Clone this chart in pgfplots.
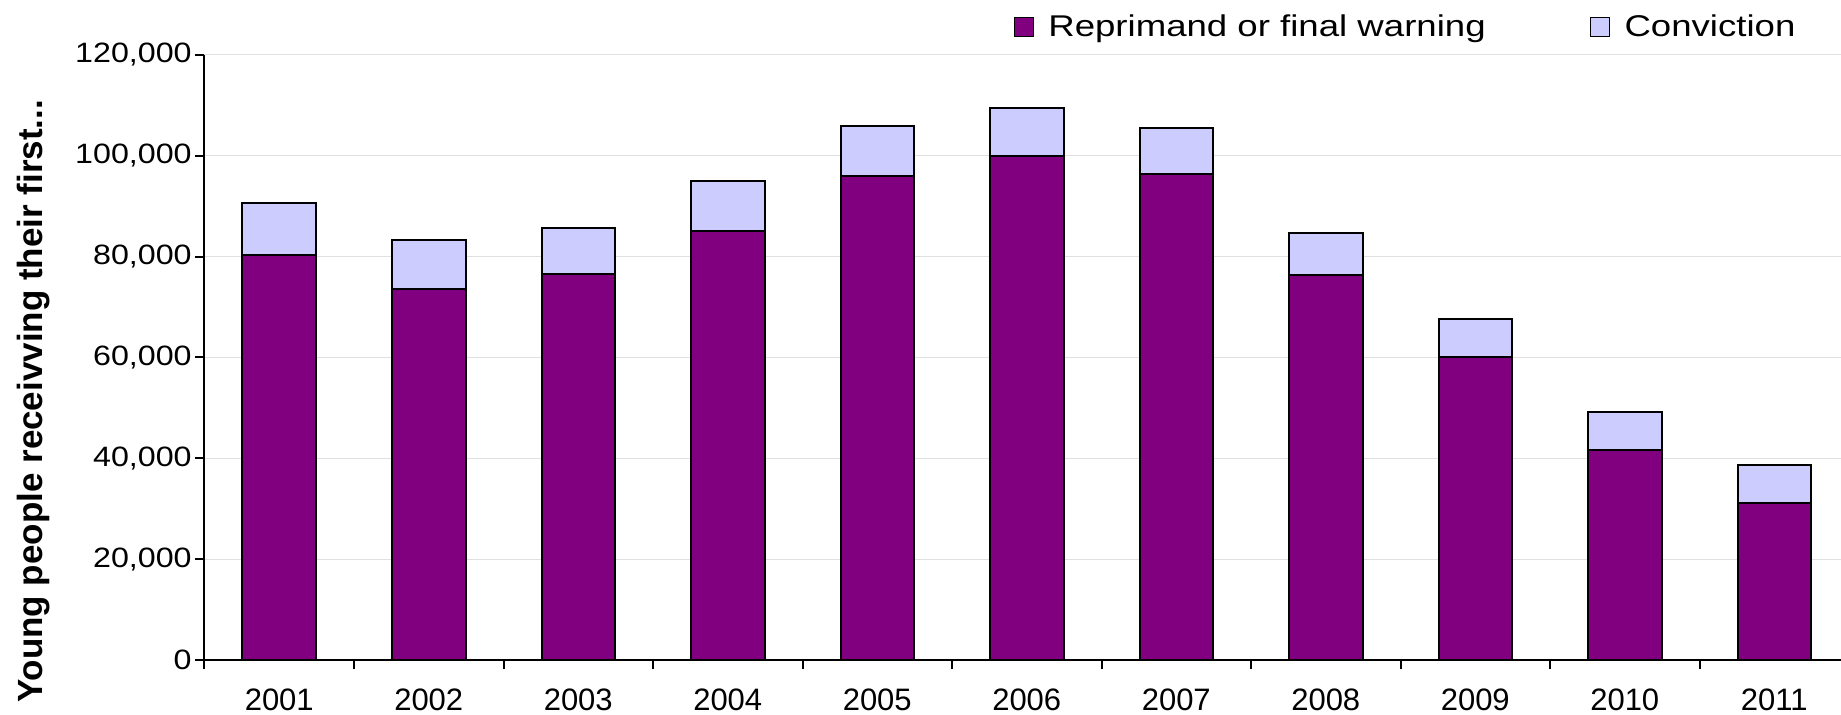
\documentclass[border=0pt]{standalone}
\usepackage{fontspec}
\setmainfont{Liberation Sans}
\newfontfamily\ytfont[FakeStretch=1.15]{Liberation Sans}
\newfontfamily\xtfont{Liberation Sans}
\newfontfamily\legfont[FakeStretch=1.22]{Liberation Sans}
\usepackage{pgfplots}
\usepackage{pgfplotstable}
\pgfplotsset{compat=1.18}
\definecolor{repc}{HTML}{800080}
\definecolor{convc}{HTML}{CCCCFF}

\pgfplotstableread{
x rep conv
0 80400 10300
1 73500 9900
2 76500 9100
3 85100 10000
4 96000 10000
5 100000 9400
6 96300 9200
7 76400 8200
8 60000 7700
9 41600 7500
10 31200 7400
}\datatable

\begin{document}
\begin{tikzpicture}
\begin{axis}[
  scale only axis,
  width=822.25pt, height=302.5pt,
  xmin=-0.5, xmax=10.5, ymin=0, ymax=120000,
  ybar stacked, bar width=36.75pt,
  axis x line*=bottom, axis y line*=left,
  axis line style={-, line width=1pt, black},
  xtick={-0.5,0.5,...,10.5},
  x tick label as interval,
  xticklabels={2001,2002,2003,2004,2005,2006,2007,2008,2009,2010,2011},
  ytick={0,20000,40000,60000,80000,100000,120000},
  yticklabels={0,{20,000},{40,000},{60,000},{80,000},{100,000},{120,000}},
  tick align=outside,
  major tick length=4.7pt,
  tick style={line width=1pt, black},
  scaled y ticks=false,
  xticklabel style={font=\xtfont\fontsize{15.5}{18}\selectfont, yshift=-6pt},
  yticklabel style={font=\ytfont\fontsize{14}{16}\selectfont, xshift=1.8pt},
  ymajorgrids,
  major grid style={line width=0.5pt, color=black!12},
  extra y ticks={120000},
  extra y tick labels={},
  extra y tick style={grid style={line width=1pt, color=black!28}},
  ylabel={Young people receivving their first...},
  ylabel style={at={(axis description cs:-0.1040,0.4281)}, anchor=center, font=\bfseries\fontsize{17.5}{20}\selectfont},
  legend columns=2,
  legend style={draw=none, fill=none, inner sep=0pt, at={(axis description cs:0.9701,1.0463)}, anchor=east,
    font=\legfont\fontsize{15}{18}\selectfont,
    /tikz/every even column/.append style={column sep=50pt}},
  legend image code/.code={\draw[#1, line width=0.8pt] (0pt,-4.75pt) rectangle (9.5pt,4.75pt); \path[draw=none, fill=none] (0pt,0pt) -- (15pt,0pt);},
]
\addplot[fill=repc, draw=black, line width=1pt] table[x=x, y=rep] {\datatable};
\addplot[fill=convc, draw=black, line width=1pt] table[x=x, y=conv] {\datatable};
\legend{Reprimand or final warning, Conviction}
\end{axis}
\pgfresetboundingbox
\useasboundingbox (-102.25pt,-27.5pt) rectangle (818.25pt,330pt);
\end{tikzpicture}
\end{document}
